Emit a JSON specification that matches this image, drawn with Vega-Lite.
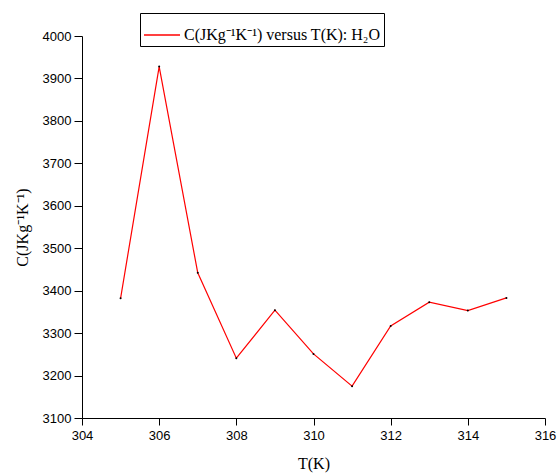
{
  "$schema": "https://vega.github.io/schema/vega-lite/v6.json",
  "autosize": {"type": "none"},
  "width": 463,
  "height": 382,
  "padding": {"left": 82, "top": 36, "right": 13, "bottom": 56},
  "background": "white",
  "config": {
    "view": {"stroke": null},
    "axis": {"grid": false, "domainColor": "black", "labelFlush": false,
      "labelFont": "Liberation Sans", "labelFontSize": 13, "labelColor": "black",
      "titleFont": "Liberation Serif", "titleFontSize": 16, "titleFontWeight": "normal", "titleColor": "black"},
    "legend": {"labelFont": "Liberation Serif", "labelFontSize": 16, "labelColor": "black"}
  },
  "data": {"values": [
    {"T": 305, "C": 3382, "series": "C(JKg⁻¹K⁻¹) versus T(K): H₂O"},
    {"T": 306, "C": 3928, "series": "C(JKg⁻¹K⁻¹) versus T(K): H₂O"},
    {"T": 307, "C": 3442, "series": "C(JKg⁻¹K⁻¹) versus T(K): H₂O"},
    {"T": 308, "C": 3241, "series": "C(JKg⁻¹K⁻¹) versus T(K): H₂O"},
    {"T": 309, "C": 3354, "series": "C(JKg⁻¹K⁻¹) versus T(K): H₂O"},
    {"T": 310, "C": 3251, "series": "C(JKg⁻¹K⁻¹) versus T(K): H₂O"},
    {"T": 311, "C": 3175, "series": "C(JKg⁻¹K⁻¹) versus T(K): H₂O"},
    {"T": 312, "C": 3317, "series": "C(JKg⁻¹K⁻¹) versus T(K): H₂O"},
    {"T": 313, "C": 3373, "series": "C(JKg⁻¹K⁻¹) versus T(K): H₂O"},
    {"T": 314, "C": 3353, "series": "C(JKg⁻¹K⁻¹) versus T(K): H₂O"},
    {"T": 315, "C": 3383, "series": "C(JKg⁻¹K⁻¹) versus T(K): H₂O"}
  ]},
  "layer": [
    {
      "mark": {"type": "line", "strokeWidth": 1.2},
      "encoding": {
        "x": {"field": "T", "type": "quantitative", "scale": {"domain": [304, 316], "nice": false, "zero": false},
          "axis": {"values": [304, 305, 306, 307, 308, 309, 310, 311, 312, 313, 314, 315, 316], "format": "d",
            "tickColor": "black", "tickSize": 7,
            "labelOpacity": {"condition": {"test": "datum.value % 2 === 0", "value": 1}, "value": 0},
            "labelPadding": 4, "title": "T(K)", "titlePadding": 13}},
        "y": {"field": "C", "type": "quantitative", "scale": {"domain": [3100, 4000], "nice": false, "zero": false},
          "axis": {"values": [3100, 3150, 3200, 3250, 3300, 3350, 3400, 3450, 3500, 3550, 3600, 3650, 3700, 3750, 3800, 3850, 3900, 3950, 4000],
            "format": "d", "tickColor": "black",
            "labelOpacity": {"condition": {"test": "datum.value % 100 === 0", "value": 1}, "value": 0},
            "tickSize": {"condition": {"test": "datum.value % 100 === 0", "value": 8}, "value": 4},
            "labelPadding": 3, "title": "C(JKg⁻¹K⁻¹)", "titlePadding": 12}},
        "color": {"field": "series", "type": "nominal", "scale": {"range": ["#ff0000"]},
          "legend": {"title": null, "orient": "none", "legendX": 58, "legendY": -23, "symbolType": "stroke", "symbolSize": 1300, "symbolStrokeWidth": 1.5, "strokeColor": "black", "padding": 3, "labelOffset": 3, "labelLimit": 0}}
      }
    },
    {
      "mark": {"type": "point", "filled": true, "color": "black", "size": 4, "opacity": 1},
      "encoding": {
        "x": {"field": "T", "type": "quantitative"},
        "y": {"field": "C", "type": "quantitative"}
      }
    }
  ]
}
